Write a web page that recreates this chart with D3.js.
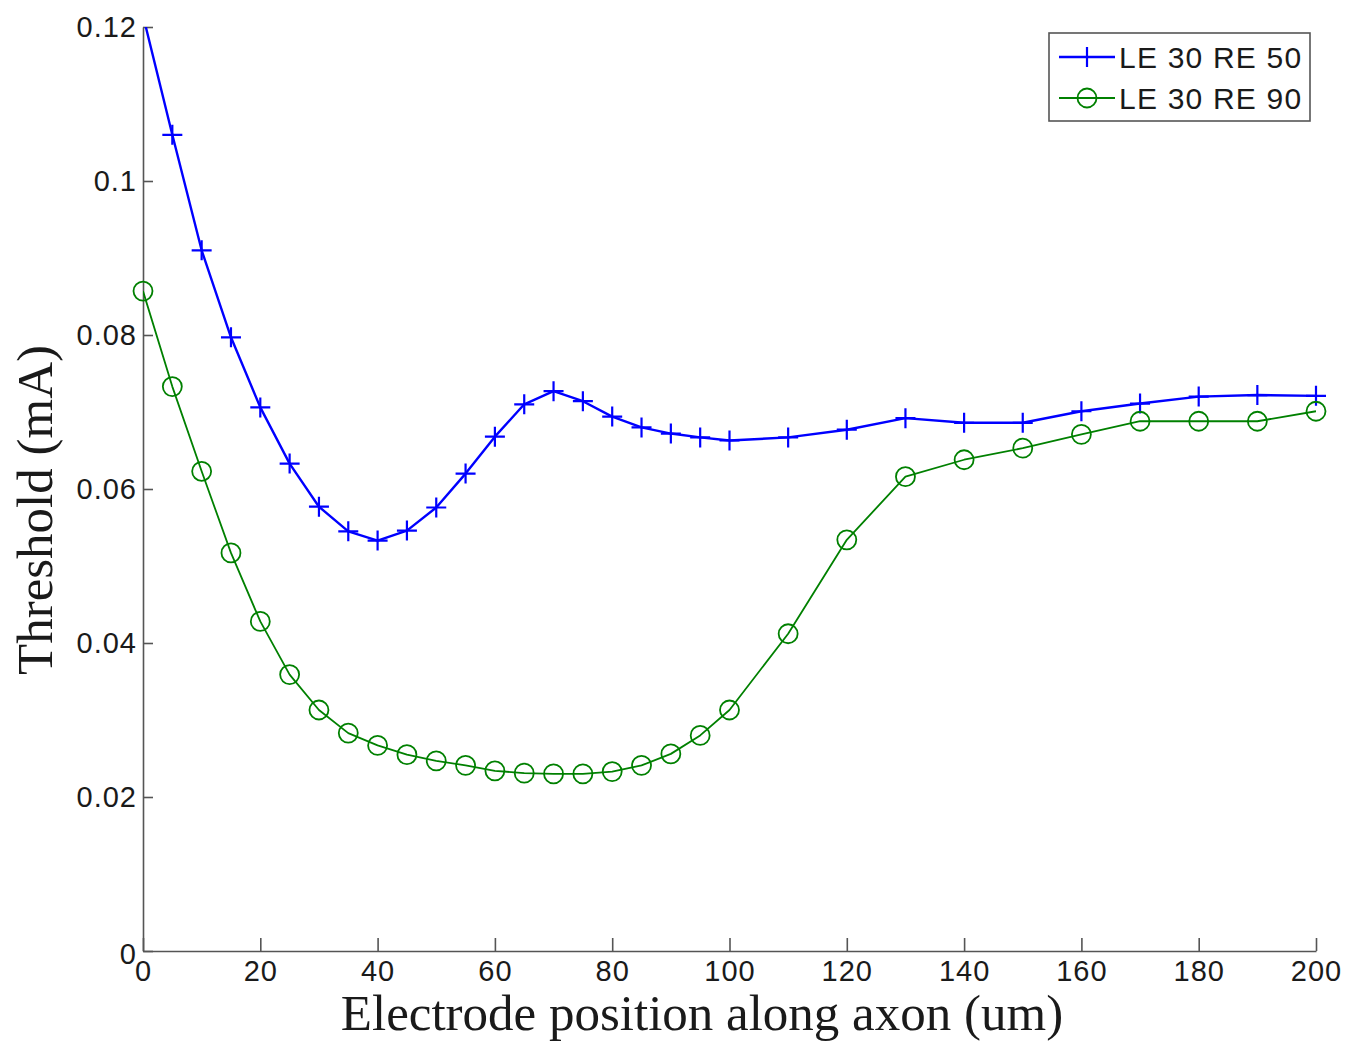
<!DOCTYPE html>
<html lang="en">
<head>
    <meta charset="UTF-8">
    <title>Threshold vs electrode position</title>
    <script src="https://d3js.org/d3.v7.min.js"></script>
    <style>
        body { margin: 0; background: #fff; }
        .tick text { font-family: "Liberation Sans", Arial, sans-serif; fill: #1a1a1a; letter-spacing: 1px; }
    </style>
</head>
<body>

<svg id="chart" width="1361" height="1042"></svg>

<script>
    // electrode positions (um)
    var positions = [0, 5, 10, 15, 20, 25, 30, 35, 40, 45, 50, 55, 60, 65, 70, 75, 80, 85, 90, 95, 100,
        110, 120, 130, 140, 150, 160, 170, 180, 190, 200];

    // thresholds (mA)
    var le30re50 = [0.1215, 0.1060, 0.0910, 0.0797, 0.0706, 0.0633, 0.0577, 0.0545, 0.0533, 0.0546, 0.0576,
        0.0620, 0.0668, 0.0710, 0.0727, 0.0714, 0.0694, 0.0680, 0.0672, 0.0667, 0.0663,
        0.0667, 0.0677, 0.0692, 0.0686, 0.0686, 0.0701, 0.0711, 0.0720, 0.0722, 0.0721];

    var le30re90 = [0.0857, 0.0733, 0.0623, 0.0517, 0.0428, 0.0359, 0.0313, 0.0283, 0.0267, 0.0255, 0.0247,
        0.0241, 0.0234, 0.0231, 0.0230, 0.0230, 0.0233, 0.0241, 0.0256, 0.0280, 0.0313,
        0.0412, 0.0534, 0.0616, 0.0638, 0.0653, 0.0671, 0.0688, 0.0688, 0.0688, 0.0701];

    var xTicks = [0, 20, 40, 60, 80, 100, 120, 140, 160, 180, 200];
    var yTicks = [0, 0.02, 0.04, 0.06, 0.08, 0.1, 0.12];

    var seriesNames = ["LE 30 RE 50", "LE 30 RE 90"];

    var svg = d3.select("#chart"),
        margin = {top: 27, right: 45, bottom: 91, left: 143},
        width = +svg.attr("width") - margin.left - margin.right,
        height = +svg.attr("height") - margin.top - margin.bottom,
        g = svg.append("g").attr("transform", "translate(" + margin.left + "," + margin.top + ")");

    var x = d3.scaleLinear().domain([0, 200]).range([0, width]);
    var y = d3.scaleLinear().domain([0, 0.12]).range([height, 0]);

    g.append("clipPath").attr("id", "plotclip")
        .append("rect")
        .attr("x", 0).attr("y", 0)
        .attr("width", width).attr("height", height);

    // axes, ticks pointing inward like matlab
    var xAxis = g.append("g")
        .attr("transform", "translate(0," + height + ")")
        .call(d3.axisBottom(x).tickValues(xTicks).tickSizeInner(-13).tickSizeOuter(0).tickPadding(9)
            .tickFormat(d3.format("d")));

    var yAxis = g.append("g")
        .call(d3.axisLeft(y).tickValues(yTicks).tickSizeInner(-10).tickSizeOuter(0).tickPadding(6)
            .tickFormat(function (d) { return d === 0 ? "0" : String(+d.toFixed(2)); }));

    [xAxis, yAxis].forEach(function (ax) {
        ax.selectAll(".domain").attr("stroke", "#555").attr("stroke-width", 1.6);
        ax.selectAll(".tick line").attr("stroke", "#555").attr("stroke-width", 1.6);
        ax.selectAll(".tick text").style("font-size", "29px");
    });

    // y "0" sits a little lower in the original
    yAxis.selectAll(".tick text").filter(function (d) { return d === 0; })
        .attr("dy", "0.42em");

    // axis titles
    svg.append("text")
        .attr("x", 702)
        .attr("y", 1030)
        .attr("text-anchor", "middle")
        .style("font-family", "'Liberation Serif', 'Times New Roman', serif")
        .style("font-size", "51px")
        .attr("fill", "#1a1a1a")
        .text("Electrode position along axon (um)");

    svg.append("text")
        .attr("transform", "translate(52,510) rotate(-90)")
        .attr("text-anchor", "middle")
        .style("font-family", "'Liberation Serif', 'Times New Roman', serif")
        .style("font-size", "51px")
        .attr("fill", "#1a1a1a")
        .text("Threshold (mA)");

    var line = d3.line()
        .x(function (d) { return x(d.x); })
        .y(function (d) { return y(d.y); });

    function toPoints(values) {
        return positions.map(function (p, i) { return {x: p, y: values[i]}; });
    }

    var blueData = toPoints(le30re50),
        greenData = toPoints(le30re90);

    var plot = g.append("g").attr("clip-path", "url(#plotclip)");

    plot.append("path")
        .datum(blueData)
        .attr("fill", "none")
        .attr("stroke", "#0000ff")
        .attr("stroke-width", 2.4)
        .attr("stroke-linejoin", "round")
        .attr("d", line);

    plot.append("path")
        .datum(greenData)
        .attr("fill", "none")
        .attr("stroke", "#008000")
        .attr("stroke-width", 1.8)
        .attr("stroke-linejoin", "round")
        .attr("d", line);

    // markers: points outside the y limits are left out
    var inside = function (d) { return d.y <= 0.12; };

    var plusSize = 10;
    g.append("g").selectAll("path")
        .data(blueData.filter(inside))
        .enter().append("path")
        .attr("d", function (d) {
            var cx = x(d.x), cy = y(d.y);
            return "M" + (cx - plusSize) + "," + cy + "H" + (cx + plusSize) +
                "M" + cx + "," + (cy - plusSize) + "V" + (cy + plusSize);
        })
        .attr("stroke", "#0000ff")
        .attr("stroke-width", 2.2)
        .attr("fill", "none");

    g.append("g").selectAll("circle")
        .data(greenData.filter(inside))
        .enter().append("circle")
        .attr("cx", function (d) { return x(d.x); })
        .attr("cy", function (d) { return y(d.y); })
        .attr("r", 9.5)
        .attr("stroke", "#008000")
        .attr("stroke-width", 1.8)
        .attr("fill", "none");

    // legend
    var legend = svg.append("g").attr("transform", "translate(1049,33)");
    legend.append("rect")
        .attr("width", 261).attr("height", 88)
        .attr("fill", "#fff")
        .attr("stroke", "#555")
        .attr("stroke-width", 1.6);

    var legendRows = [
        {name: seriesNames[0], color: "#0000ff", marker: "plus", width: 2.4},
        {name: seriesNames[1], color: "#008000", marker: "circle", width: 1.8}
    ];

    legendRows.forEach(function (row, i) {
        var ry = 24 + i * 41;
        legend.append("line")
            .attr("x1", 10).attr("x2", 66)
            .attr("y1", ry).attr("y2", ry)
            .attr("stroke", row.color).attr("stroke-width", row.width);
        if (row.marker === "plus") {
            legend.append("line")
                .attr("x1", 38).attr("x2", 38)
                .attr("y1", ry - plusSize).attr("y2", ry + plusSize)
                .attr("stroke", row.color).attr("stroke-width", 2.2);
        } else {
            legend.append("circle")
                .attr("cx", 38).attr("cy", ry).attr("r", 9.5)
                .attr("fill", "none")
                .attr("stroke", row.color).attr("stroke-width", 1.8);
        }
        legend.append("text")
            .attr("x", 70).attr("y", ry)
            .attr("dy", "0.35em")
            .style("font-family", "'Liberation Sans', Arial, sans-serif")
            .style("font-size", "30px")
            .style("letter-spacing", "1.2px")
            .attr("fill", "#1a1a1a")
            .text(row.name);
    });
</script>

</body>
</html>
